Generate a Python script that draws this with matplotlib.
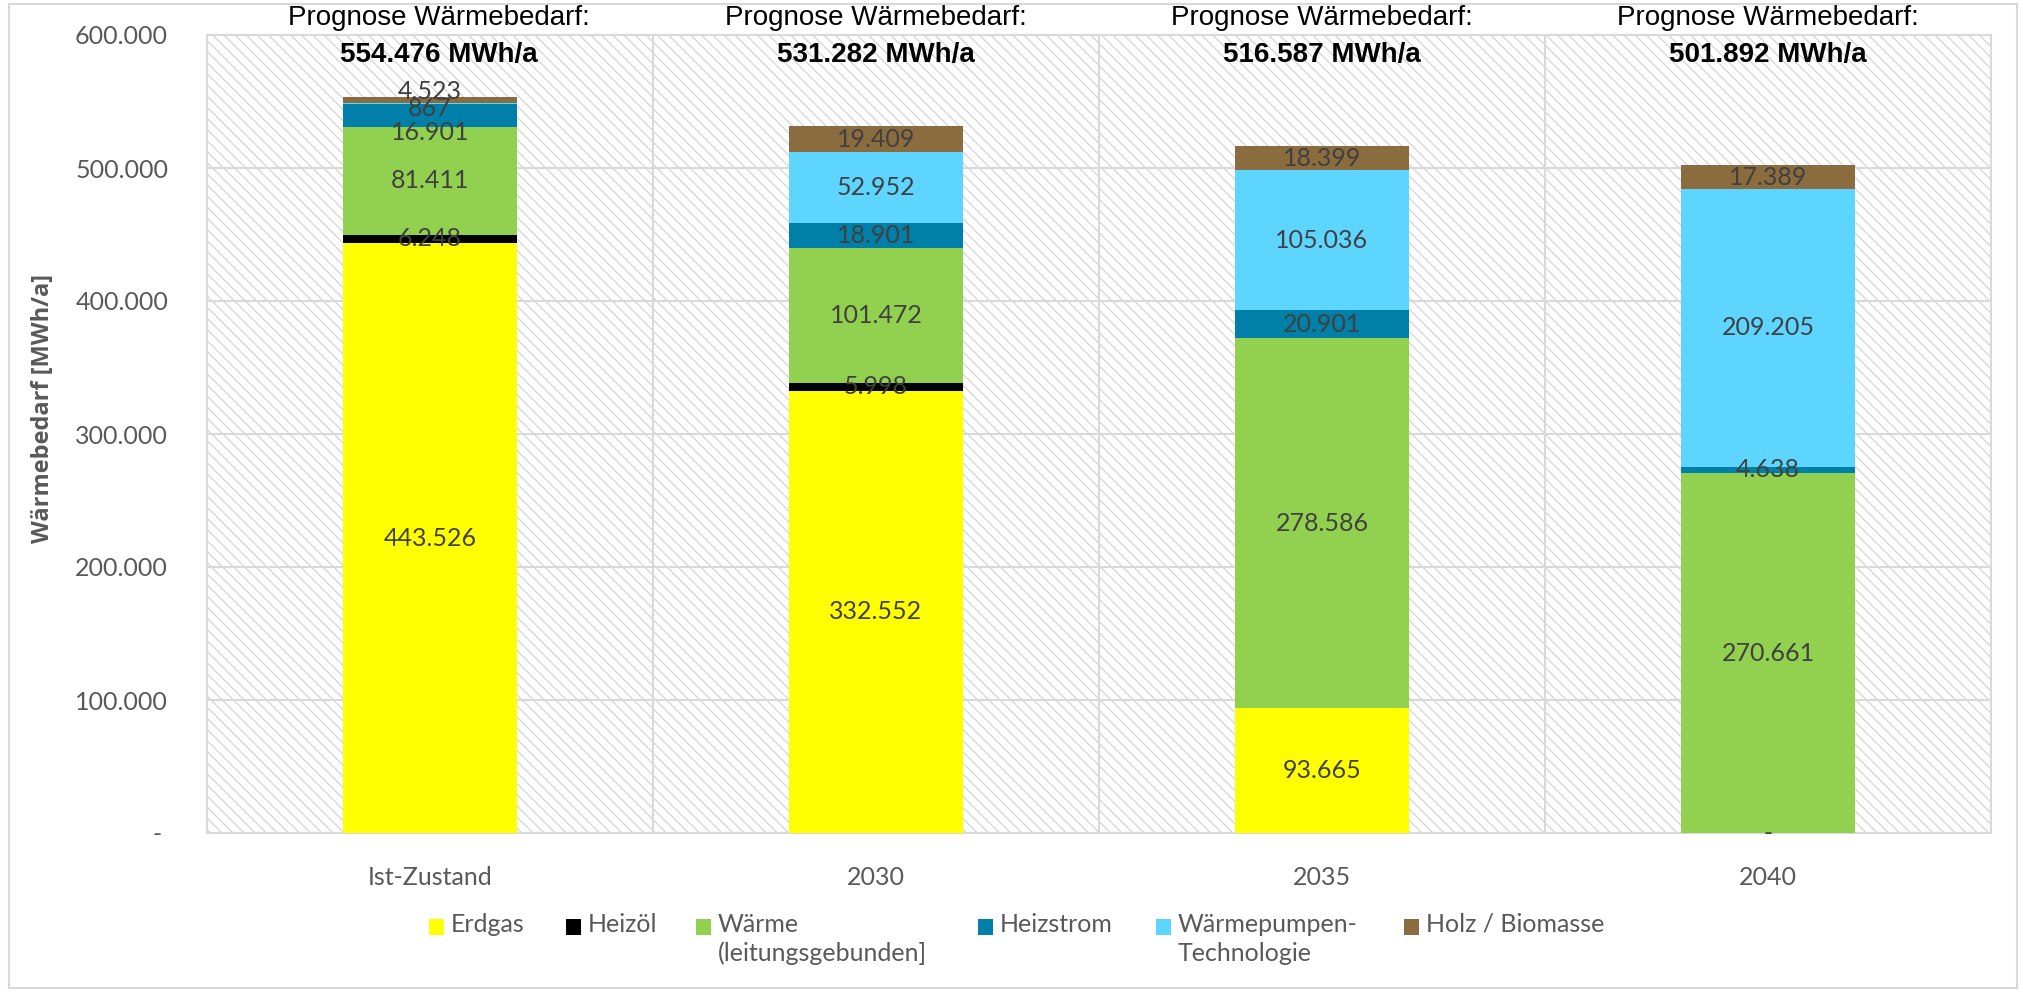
import matplotlib.pyplot as plt
import numpy as np
from matplotlib.patches import Rectangle
from matplotlib.transforms import blended_transform_factory

plt.rcParams['font.family'] = ['Lato', 'DejaVu Sans']
plt.rcParams['hatch.linewidth'] = 0.9

# Wärmebedarf je Energieträger in MWh/a
jahre = ["Ist-Zustand", "2030", "2035", "2040"]
erdgas = [443526, 332552, 93665, 0]
heizoel = [6248, 5998, np.nan, 0]
waerme = [81411, 101472, 278586, 270661]
heizstrom = [16901, 18901, 20901, 4638]
waermepumpen = [867, 52952, 105036, 209205]
holz = [4523, 19409, 18399, 17389]
gesamt = ["554.476 MWh/a", "531.282 MWh/a", "516.587 MWh/a", "501.892 MWh/a"]

reihen = [erdgas, heizoel, waerme, heizstrom, waermepumpen, holz]
namen = ["Erdgas", "Heizöl", "Wärme\n(leitungsgebunden]", "Heizstrom",
         "Wärmepumpen-\nTechnologie", "Holz / Biomasse"]
farben = ["#ffff00", "#000000", "#92d050", "#0080a8", "#5dd5ff", "#8b6c3e"]

# verschobene Beschriftungen (Reihe, Säule) -> Versatz in pt
versatz = {(5, 0): 6, (4, 0): -3.5, (3, 0): -12.5}

grau = "#595959"
txt = "#404040"
arial = ['Liberation Sans', 'DejaVu Sans']

fig = plt.figure(figsize=(20.24, 9.92), dpi=100)
fig.patches.append(Rectangle((9 / 2024, 4 / 992), 2008 / 2024, 984 / 992,
                             transform=fig.transFigure, fill=False,
                             edgecolor="#d9d9d9", linewidth=1.5))
ax = fig.add_axes([207 / 2024, 1 - 833 / 992, 1784 / 2024, 798 / 992])
# schraffierter Hintergrund der Zeichenfläche
ax.add_patch(Rectangle((0, 0), 1, 1, transform=ax.transAxes, facecolor="white",
                       edgecolor="#d4d4d4", linewidth=0, hatch='\\\\\\', zorder=0))

x = np.arange(len(jahre))
unten = np.zeros(len(jahre))
for k, (werte, name, farbe) in enumerate(zip(reihen, namen, farben)):
    v = np.array(werte, dtype=float)
    h = np.nan_to_num(v)
    ax.bar(x, h, 0.39, bottom=unten, color=farbe, label=name, zorder=3)
    for i in range(len(x)):
        if np.isnan(v[i]):
            continue
        if v[i] == 0:
            if unten[i] == 0 and k == 0:
                ax.text(x[i], 0, "-", ha="center", va="center", fontsize=18,
                        color=txt, zorder=4)
            continue
        lab = f"{v[i]:,.0f}".replace(",", ".")
        ax.annotate(lab, (x[i], unten[i] + h[i] / 2),
                    xytext=(0, versatz.get((k, i), 0)), textcoords="offset points",
                    ha="center", va="center", fontsize=18, color=txt, zorder=4)
    unten += h

# Gesamtwerte über den Säulen
tr = blended_transform_factory(ax.transData, ax.transAxes)
for i, g in enumerate(gesamt):
    dx = 0.02 if i == 0 else 0
    ax.text(x[i] + dx, 1.021, "Prognose Wärmebedarf:", transform=tr, ha="center",
            va="center", fontsize=20, family=arial, color="black")
    ax.text(x[i] + dx, 0.975, g, transform=tr, ha="center", va="center",
            fontsize=20, family=arial, fontweight="bold", color="black")

ax.set_xlim(-0.5, len(jahre) - 0.5)
ax.set_ylim(0, 600000)
ax.set_yticks(np.arange(0, 600001, 100000))
ax.set_yticklabels(["- "] + [f"{t:,}".replace(",", ".") for t in range(100000, 600001, 100000)])
ax.set_xticks(x)
ax.set_xticklabels(jahre)
ax.set_xticks(np.arange(0.5, len(jahre) - 1), minor=True)
ax.tick_params(axis="both", which="both", length=0, labelsize=18, labelcolor=grau)
ax.tick_params(axis="y", pad=28)
ax.tick_params(axis="x", pad=24)
ax.grid(axis="y", color="#d9d9d9", linewidth=1.5, zorder=1)
ax.grid(axis="x", which="minor", color="#d9d9d9", linewidth=1.5, zorder=1)
for s in ax.spines.values():
    s.set_color("#d9d9d9")
    s.set_linewidth(1.5)

fig.text(43 / 2024, 1 - 408 / 992, "Wärmebedarf [MWh/a]", rotation=90,
         ha="center", va="center", fontsize=17, fontweight="bold", color=grau,
         family=['Open Sans', 'DejaVu Sans'])

# Legende
leg_x = [429, 566, 696, 978, 1156, 1404]
leg_y = 927
for lx, name, farbe in zip(leg_x, namen, farben):
    fig.patches.append(Rectangle((lx / 2024, 1 - (leg_y + 8) / 992), 15 / 2024, 16 / 992,
                                 transform=fig.transFigure, facecolor=farbe,
                                 edgecolor="none"))
    fig.text((lx + 22) / 2024, 1 - (leg_y - 14) / 992, name, ha="left", va="top",
             fontsize=18, color=grau, linespacing=1.3)

fig.savefig("out.png", dpi=100)
